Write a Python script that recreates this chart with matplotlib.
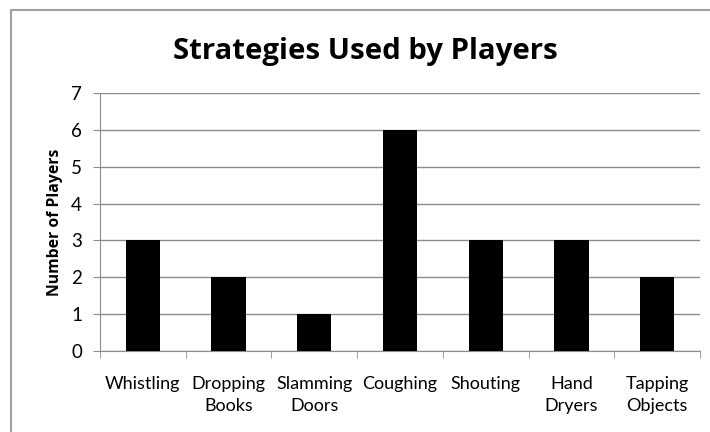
import matplotlib
matplotlib.use("Agg")
import matplotlib.pyplot as plt
from matplotlib.lines import Line2D
import numpy as np

categories = ["Whistling", "Dropping\nBooks", "Slamming\nDoors", "Coughing",
              "Shouting", "Hand\nDryers", "Tapping\nObjects"]
values = [3, 2, 1, 6, 3, 3, 2]
yticks = [0, 1, 2, 3, 4, 5, 6, 7]

plt.rcParams['font.family'] = ['Open Sans', 'DejaVu Sans']

W, H = 710, 432
fig = plt.figure(figsize=(W / 100, H / 100), dpi=100)
ax = fig.add_axes([100 / W, (H - 351) / H, (700 - 100) / W, (351 - 93) / H])

x = np.arange(len(categories))
ax.bar(x, values, width=0.4, color='black', zorder=3)

ax.set_xlim(-0.5, len(categories) - 0.5)
ax.set_ylim(0, 7)
ax.set_yticks(yticks)
ax.yaxis.grid(True, color='#8c8c8c', linewidth=1.0, zorder=0)
ax.set_axisbelow(True)

for s in ['top', 'right']:
    ax.spines[s].set_visible(False)
ax.spines['left'].set_color('#8c8c8c')
ax.spines['bottom'].set_color('#8c8c8c')

ax.set_xticks(x)
ax.set_xticklabels(categories, fontsize=13, linespacing=1.45,
                   family=['Lato', 'DejaVu Sans'])
ax.tick_params(axis='x', which='major', length=0, pad=18)
ax.set_xticks(np.arange(-0.5, len(categories)), minor=True)
ax.tick_params(axis='x', which='minor', length=5, color='#8c8c8c', direction='out')
ax.tick_params(axis='y', length=5, color='#8c8c8c', labelsize=13.5, pad=8)
for lab in ax.get_yticklabels():
    lab.set_family(['Lato', 'DejaVu Sans'])

ax.set_ylabel("Number of Players", fontsize=11.3, fontweight='bold', labelpad=6)

fig.text(365 / W, 1 - 52 / H, "Strategies Used by Players", ha='center', va='center',
         fontsize=21.2, fontweight='bold')

fig.add_artist(Line2D([11 / W, 11 / W, 1.0], [0.0, 1 - 10 / H, 1 - 10 / H],
                      transform=fig.transFigure, color='#a0a0a0', linewidth=1.5))

fig.savefig("out.png", dpi=100)
